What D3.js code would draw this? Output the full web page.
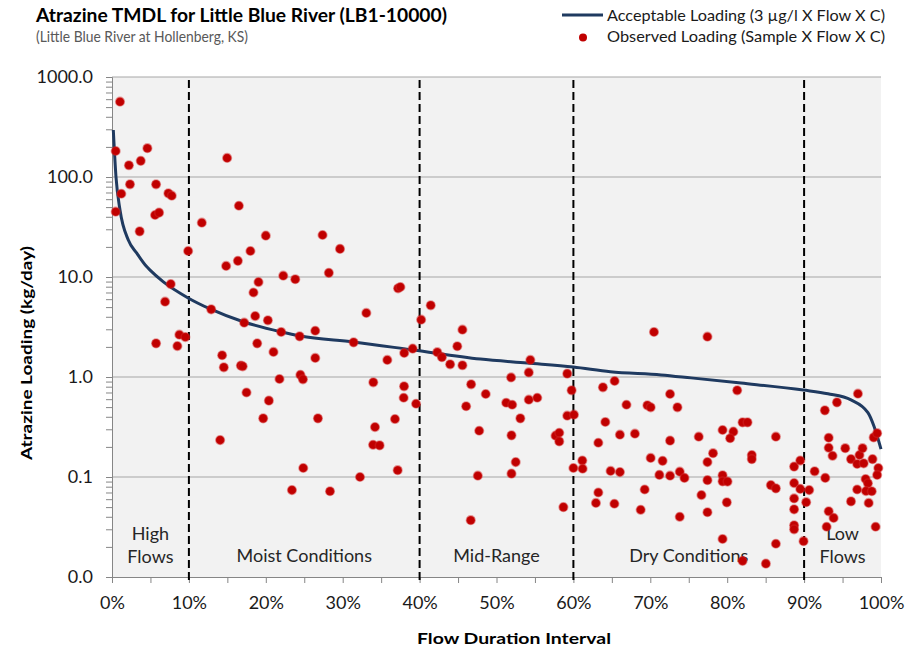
<!DOCTYPE html>
<html>
<head>
<meta charset="utf-8">
<script src="https://cdn.jsdelivr.net/npm/d3@7"></script>
<style>
  body { margin: 0; background: #fff; }
  svg { display: block; font-family: Lato, "Open Sans", sans-serif; }
</style>
</head>
<body>
<div id="chart"></div>
<script>
// acceptable loading curve (flow duration %, kg/day)
var curveX = [0.17, 0.52, 1.04, 2.12, 3.2, 4.5, 4.95, 6.64, 9.9, 12.76, 17.06, 21.9, 24.5, 31.4, 39.2, 47.9, 54.0, 60.0, 64.8, 71.4, 75.3, 81.8, 89.9, 93.1, 96.1, 98.3, 99.1, 100];
var curveY = [295, 100, 46.8, 23.4, 17.4, 12.7, 11.7, 8.98, 6.17, 4.79, 3.57, 2.84, 2.57, 2.24, 1.86, 1.51, 1.38, 1.26, 1.13, 1.05, 0.98, 0.87, 0.74, 0.68, 0.59, 0.44, 0.32, 0.19];

// observed loading samples
var obsX = [1.04, 0.48, 4.6, 2.2, 3.74, 14.97, 2.34, 5.73, 1.21, 7.33, 7.77, 0.48, 5.6, 6.12, 16.5, 11.68, 3.6, 20.0, 9.9, 18.0,
  14.84, 16.37, 22.27, 23.83, 19.05, 18.4, 7.64, 6.9, 12.9, 17.19, 18.62, 20.27, 22.0, 24.4, 8.76, 9.54, 5.73, 8.5, 18.88, 21.0,
  14.32, 14.54, 16.76, 17.0, 21.78, 24.5, 24.83, 17.49, 20.4, 19.66, 14.06, 23.4,
  27.38, 29.65, 28.2, 37.2, 37.5, 33.07, 41.45, 40.2, 45.57, 26.43, 31.42, 39.1, 38.0, 42.3, 42.9, 44.9, 43.97, 45.57,
  35.8, 26.43, 33.98, 37.98, 46.7, 37.93, 39.54, 46.05, 26.78, 36.8, 34.2, 47.75, 33.95, 34.8, 24.87, 32.25, 37.15, 28.35,
  46.65, 47.57, 48.6,
  54.4, 54.2, 51.9, 59.2, 59.77, 51.26, 52.04, 54.2, 55.3, 53.1, 59.2, 60.07, 51.95, 57.68, 58.16, 58.16, 52.5, 51.95, 58.7,
  60.0, 61.16, 61.2, 63.84, 65.36, 66.9, 64.15, 66.05, 68.0, 63.24, 64.84, 66.05, 63.24, 62.93, 65.33, 69.27, 68.75, 70.48,
  69.62, 70.05, 70.05, 71.6,
  77.43, 72.57, 73.53, 81.3, 82.0, 82.64, 79.4, 80.8, 80.38, 76.3, 72.57, 86.33, 78.16, 77.43, 83.2, 83.2, 71.18, 72.57,
  73.83, 74.44, 79.4, 79.4, 80.04, 77.43, 76.65, 79.95, 77.43, 73.83, 85.68, 86.33, 79.4, 86.33, 82.0, 85.03,
  88.7, 89.5, 88.7, 89.5, 88.7, 90.27, 90.66, 88.7, 88.7, 88.7, 89.93, 91.37, 92.75, 92.7, 94.27, 97.0, 93.2, 93.2, 93.7,
  95.35, 96.1, 96.9, 97.2, 97.6, 97.75, 98.9, 99.65, 99.5, 99.05, 99.5, 98.0, 98.3, 96.9, 98.05, 98.8, 96.1, 98.4, 93.2,
  93.84, 92.93, 99.3];
var obsY = [566, 182, 194, 131, 145, 155, 84.5, 84.5, 68, 68.7, 65, 45, 41.7, 44, 51.6, 34.9, 28.6, 25.9, 18.2, 18.2,
  12.9, 14.5, 10.3, 9.5, 8.9, 7.0, 8.5, 5.66, 4.75, 3.49, 4.07, 3.69, 2.82, 2.55, 2.65, 2.51, 2.17, 2.04, 2.17, 1.78,
  1.65, 1.25, 1.30, 1.28, 0.955, 1.05, 0.948, 0.70, 0.58, 0.386, 0.234, 0.074,
  26.3, 19.1, 11.0, 7.71, 7.94, 4.37, 5.21, 3.74, 2.97, 2.90, 2.22, 1.92, 1.74, 1.77, 1.58, 2.03, 1.34, 1.31,
  1.48, 1.55, 0.885, 0.807, 0.845, 0.62, 0.54, 0.51, 0.386, 0.38, 0.316, 0.29, 0.21, 0.207, 0.123, 0.1, 0.117, 0.072,
  0.037, 0.103, 0.676,
  1.48, 1.11, 0.99, 1.08, 0.736, 0.553, 0.528, 0.593, 0.62, 0.386, 0.41, 0.42, 0.261, 0.259, 0.277, 0.227, 0.141, 0.108, 0.050,
  0.123, 0.146, 0.121, 0.789, 0.912, 0.528, 0.355, 0.265, 0.271, 0.22, 0.115, 0.112, 0.070, 0.055, 0.054, 0.075, 0.047, 2.82,
  0.521, 0.498, 0.155, 0.145,
  2.53, 0.676, 0.498, 0.736, 0.352, 0.352, 0.295, 0.284, 0.244, 0.253, 0.231, 0.253, 0.173, 0.141, 0.166, 0.151, 0.105, 0.103,
  0.113, 0.098, 0.104, 0.0905, 0.090, 0.093, 0.066, 0.0558, 0.0444, 0.040, 0.083, 0.077, 0.024, 0.0215, 0.0145, 0.0136,
  0.127, 0.146, 0.087, 0.076, 0.061, 0.056, 0.074, 0.0475, 0.0329, 0.030, 0.0228, 0.114, 0.098, 0.464, 0.558, 0.681, 0.247, 0.196, 0.163,
  0.194, 0.151, 0.135, 0.166, 0.194, 0.137, 0.151, 0.123, 0.105, 0.249, 0.274, 0.0955, 0.0865, 0.075, 0.0724, 0.072, 0.057, 0.055, 0.0454,
  0.039, 0.0318, 0.0318];

var xTicks = [0, 10, 20, 30, 40, 50, 60, 70, 80, 90, 100];
var yTicks = [0.01, 0.1, 1, 10, 100, 1000];
var dividers = [10, 40, 60, 90];
var regions = [
  {lines: ["High", "Flows"], x: 5},
  {lines: ["Moist Conditions"], x: 25},
  {lines: ["Mid-Range"], x: 50},
  {lines: ["Dry Conditions"], x: 75},
  {lines: ["Low", "Flows"], x: 95}
];

var width = 912, height = 650;
var plotLeft = 112, plotRight = 881, plotTop = 77, plotBottom = 577;

var svg = d3.select("#chart").append("svg")
  .attr("width", width)
  .attr("height", height);

var x = d3.scaleLinear().domain([0, 100]).range([plotLeft, plotRight]);
var y = d3.scaleLog().domain([0.01, 1000]).range([plotBottom, plotTop]);

// plot background
svg.append("rect")
  .attr("x", plotLeft).attr("y", plotTop)
  .attr("width", plotRight - plotLeft).attr("height", plotBottom - plotTop)
  .attr("fill", "#f2f2f2");

// horizontal gridlines
svg.append("g").selectAll("line").data(yTicks.slice(1)).enter().append("line")
  .attr("x1", plotLeft).attr("x2", plotRight)
  .attr("y1", function(d){ return y(d); })
  .attr("y2", function(d){ return y(d); })
  .attr("stroke", "#a6a6a6").attr("stroke-width", 1);

// y axis with log minor ticks
var minorY = [];
yTicks.slice(0, -1).forEach(function(t) {
  for (var k = 1; k < 10; k++) minorY.push(t * k);
});
minorY.push(1000);

var yAxis = svg.append("g")
  .attr("transform", "translate(" + plotLeft + ",0)")
  .call(d3.axisLeft(y).tickValues(minorY).tickSize(6).tickFormat(function(d){
    return yTicks.some(function(t){ return Math.abs(t - d) < 1e-9; }) ? d3.format(".1f")(d) : "";
  }));
yAxis.select(".domain").attr("stroke", "#868686");
yAxis.selectAll(".tick line").attr("stroke", "#868686");
yAxis.selectAll(".tick text")
  .attr("x", -19)
  .attr("font-size", 18)
  .attr("font-family", "Lato, sans-serif")
  .attr("fill", "#1a1a1a");

// x axis
var xAxis = svg.append("g")
  .attr("transform", "translate(0," + plotBottom + ")")
  .call(d3.axisBottom(x).tickValues(d3.range(0, 101, 5)).tickSize(6).tickFormat(function(d){
    return xTicks.indexOf(d) >= 0 ? d + "%" : "";
  }));
xAxis.select(".domain").attr("stroke", "#868686");
xAxis.selectAll(".tick line").attr("stroke", "#868686");
xAxis.selectAll(".tick text")
  .attr("y", 19)
  .attr("font-size", 18)
  .attr("font-family", "Lato, sans-serif")
  .attr("fill", "#1a1a1a");

// dashed dividers
svg.append("g").selectAll("line").data(dividers).enter().append("line")
  .attr("x1", function(d){ return x(d); })
  .attr("x2", function(d){ return x(d); })
  .attr("y1", plotTop + 3).attr("y2", plotBottom + 6)
  .attr("stroke", "#000").attr("stroke-width", 2)
  .attr("stroke-dasharray", "8,4");

// region labels
var reg = svg.append("g").selectAll("text").data(regions).enter().append("text")
  .attr("text-anchor", "middle")
  .attr("font-size", 18)
  .attr("fill", "#262626");
reg.each(function(d) {
  var t = d3.select(this);
  var base = d.lines.length === 2 ? 540 : 562;
  d.lines.forEach(function(s, i) {
    t.append("tspan")
      .attr("x", x(d.x))
      .attr("y", base + i * 23)
      .text(s);
  });
});

// acceptable loading curve
var line = d3.line()
  .x(function(d){ return x(d[0]); })
  .y(function(d){ return y(d[1]); })
  .curve(d3.curveMonotoneX);

svg.append("path")
  .datum(d3.zip(curveX, curveY))
  .attr("d", line)
  .attr("fill", "none")
  .attr("stroke", "#1f3a60")
  .attr("stroke-width", 3);

// observed points
svg.append("g").selectAll("circle").data(d3.zip(obsX, obsY)).enter().append("circle")
  .attr("cx", function(d){ return x(d[0]); })
  .attr("cy", function(d){ return y(d[1]); })
  .attr("r", 4.3)
  .attr("fill", "#c00000")
  .attr("stroke", "rgba(210,40,40,0.45)")
  .attr("stroke-width", 1.6);

// titles
svg.append("text")
  .attr("x", 36).attr("y", 22)
  .attr("font-size", 18.5).attr("font-weight", "bold")
  .attr("textLength", 411).attr("lengthAdjust", "spacingAndGlyphs")
  .attr("fill", "#000")
  .text("Atrazine TMDL for Little Blue River (LB1-10000)");

svg.append("text")
  .attr("x", 36).attr("y", 42)
  .attr("font-size", 15)
  .attr("textLength", 212).attr("lengthAdjust", "spacingAndGlyphs")
  .attr("fill", "#595959")
  .text("(Little Blue River at Hollenberg, KS)");

// legend
svg.append("line")
  .attr("x1", 562).attr("x2", 603)
  .attr("y1", 15).attr("y2", 15)
  .attr("stroke", "#1f3a60").attr("stroke-width", 3);
svg.append("text")
  .attr("x", 607).attr("y", 21)
  .attr("font-size", 15)
  .attr("textLength", 278).attr("lengthAdjust", "spacingAndGlyphs")
  .attr("fill", "#1a1a1a")
  .text("Acceptable Loading (3 µg/l X Flow X C)");
svg.append("circle")
  .attr("cx", 583).attr("cy", 37.5).attr("r", 4)
  .attr("fill", "#c00000");
svg.append("text")
  .attr("x", 607).attr("y", 42)
  .attr("font-size", 15)
  .attr("textLength", 278).attr("lengthAdjust", "spacingAndGlyphs")
  .attr("fill", "#1a1a1a")
  .text("Observed Loading (Sample X Flow X C)");

// axis titles
svg.append("text")
  .attr("transform", "translate(32,353) rotate(-90)")
  .attr("text-anchor", "middle")
  .attr("font-size", 16).attr("font-weight", "bold")
  .attr("textLength", 214).attr("lengthAdjust", "spacingAndGlyphs")
  .attr("fill", "#000")
  .text("Atrazine Loading (kg/day)");

svg.append("text")
  .attr("x", 514).attr("y", 644)
  .attr("text-anchor", "middle")
  .attr("font-size", 16).attr("font-weight", "bold")
  .attr("textLength", 194).attr("lengthAdjust", "spacingAndGlyphs")
  .attr("fill", "#000")
  .text("Flow Duration Interval");
</script>
</body>
</html>
